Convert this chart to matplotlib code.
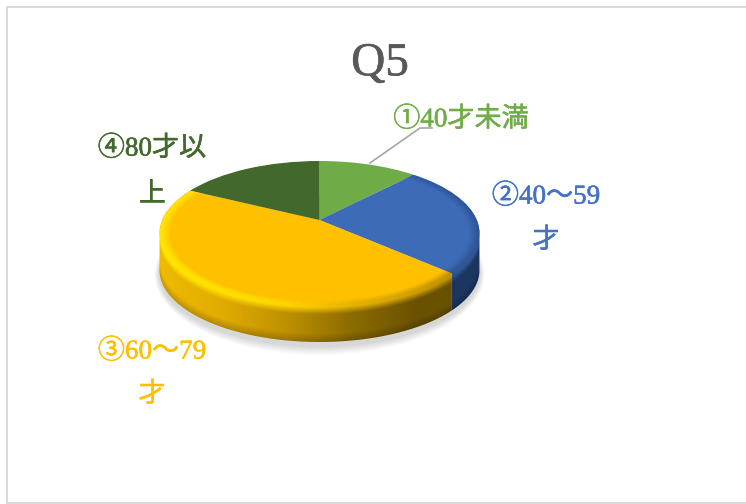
import numpy as np
import matplotlib
matplotlib.use("Agg")
import matplotlib.pyplot as plt
import matplotlib.patheffects as pe
from matplotlib.colors import LinearSegmentedColormap, to_rgb
from matplotlib.patches import Ellipse, PathPatch
from matplotlib.path import Path

# data
categories = ["①40才未満", "②40～59\n才", "③60～79\n才", "④80才以\n上"]
values = [10, 24.5, 50.5, 15]
top_colors = ["#6FAB46", "#3E6BB8", "#FFC000", "#43682B"]
text_colors = ["#70AD47", "#4472C4", "#FFC000", "#43682B"]
title = "Q5"

W, H = 746, 504
cx, cy, rx, ry = 319.5, 233, 160, 72
apex_y = 220
depth = 37

plt.rcParams["font.family"] = ["Liberation Serif", "Noto Sans CJK JP", "DejaVu Sans"]

fig = plt.figure(figsize=(W / 100, H / 100), dpi=100)

# page axes in pixels, used for frame and shadow
bg = fig.add_axes([0, 0, 1, 1])
bg.set_xlim(0, W)
bg.set_ylim(H, 0)
bg.axis("off")
bg.plot([6.5, 6.5, W + 5], [H + 5, 6.5, 6.5], color="#D9D9D9", lw=1.4)
bg.plot([6.5, W + 5], [503, 503], color="#D9D9D9", lw=1.4)

# soft shadow below the disc
for i in range(10):
    grow = 10 - i
    bg.add_patch(Ellipse((cx, cy + depth + 4), 2 * (rx + grow * 0.5), 2 * (ry + grow * 0.9),
                         color="#000000", alpha=0.014, lw=0))

# top of the disc drawn by pie, apex moved up for the perspective
ax = fig.add_axes([(cx - rx) / W, 1 - (cy + ry) / H, 2 * rx / W, 2 * ry / H])
ax.patch.set_alpha(0)
wedges, _ = ax.pie(values, colors=top_colors, startangle=90, counterclock=False,
                   radius=1, frame=False)
ax.set_aspect("auto")
ax.set_xlim(-1, 1)
ax.set_ylim(-1, 1)
for w in wedges:
    p = w.get_path()
    v = np.array(p.vertices)
    v[np.all(np.abs(v) < 1e-6, axis=1), 1] = (cy - apex_y) / ry
    w._path = Path(v, p.codes)

over = fig.add_axes([0, 0, 1, 1])
over.set_xlim(0, W)
over.set_ylim(H, 0)
over.axis("off")
over.patch.set_alpha(0)

# side wall and bevel for the two wedges that face the front
edges = np.cumsum([0] + values) / sum(values) * 360
xg, yg = np.meshgrid(np.arange(150, 490, 0.5), np.arange(150, 350, 0.5))
r = np.hypot((xg - cx) / rx, (yg - cy) / ry)
ytop = cy + ry * np.sqrt(np.clip(1 - ((xg - cx) / rx) ** 2, 0, 1))
s = np.where(r < 1, -(1 - r) * 85, yg - ytop)
u = np.clip((xg - cx + rx) / (2 * rx), 0, 1)


def ramp(stops, t):
    cm = LinearSegmentedColormap.from_list("side", stops)
    return cm(t)[..., :3]


def mix(a, b, t):
    return a * (1 - t[..., None]) + b * t[..., None]


def wall(idx, side_stops, rim_stops):
    a0 = np.radians(edges[idx])
    a1 = np.radians(edges[idx + 1])
    lo = max(a0, np.pi / 2)
    hi = min(a1, 1.5 * np.pi)
    t_side = np.linspace(lo, hi, 150)
    t_top = np.linspace(hi, a1, 60)
    pts = [(cx, apex_y), (cx + rx * np.sin(a0), cy - ry * np.cos(a0))]
    if a0 < np.pi / 2:
        t_arc = np.linspace(a0, np.pi / 2, 40)
        pts += list(zip(cx + rx * np.sin(t_arc), cy - ry * np.cos(t_arc)))
    pts += list(zip(cx + rx * np.sin(t_side), cy - ry * np.cos(t_side) + depth))
    pts += list(zip(cx + rx * np.sin(t_top), cy - ry * np.cos(t_top)))
    pts += [(cx, apex_y)]
    clip = PathPatch(Path(pts), fc="none", ec="none", transform=over.transData)
    over.add_patch(clip)

    top = np.array(to_rgb(top_colors[idx]))
    base = ramp(side_stops, u)
    rim = ramp(rim_stops, u)
    rgb = mix(rim, base, np.clip((s - 2) / 7, 0, 1))
    rgb = mix(rgb, np.broadcast_to(top, rgb.shape), np.clip((-s - 1) / 5, 0, 1))
    # a little darker towards the bottom edge
    rgb = rgb * (1 - 0.22 * np.clip((s - depth + 9) / 9, 0, 1))[..., None]
    rgba = np.dstack([rgb, np.clip((s + 9) / 3, 0, 1)])
    img = over.imshow(rgba, extent=(150, 490, 350, 150), aspect="auto", zorder=3)
    img.set_clip_path(clip)


wall(1, ["#1C3A6E", "#1B355F"], ["#3E6BB8", "#2E5596"])
wall(2, ["#F0BA00", "#E0AC00", "#BE9000", "#8C6B00", "#6B5200", "#665000"],
     ["#FFE600", "#FFE000", "#FFD200", "#E8B400", "#D0A000", "#B08600"])
over.set_xlim(0, W)
over.set_ylim(H, 0)


def put(x, y, txt, col, size=19.5):
    t = over.text(x, y, txt, fontsize=size, color=col, ha="center", va="center", zorder=5)
    t.set_path_effects([pe.withStroke(linewidth=0.4, foreground=col)])


put(380, 64, title, "#595959", 34)
over.plot([370, 420, 432], [163, 128, 128], color="#A6A6A6", lw=1.2, zorder=4)

label_pos = [(461, 120), (546, 197), (152, 352), (152, 149)]
second_y = [None, 241, 395, 195]
for i, lab in enumerate(categories):
    parts = lab.split("\n")
    put(label_pos[i][0], label_pos[i][1], parts[0], text_colors[i])
    if len(parts) > 1:
        put(label_pos[i][0], second_y[i], parts[1], text_colors[i])

fig.savefig("out.png", dpi=100)
